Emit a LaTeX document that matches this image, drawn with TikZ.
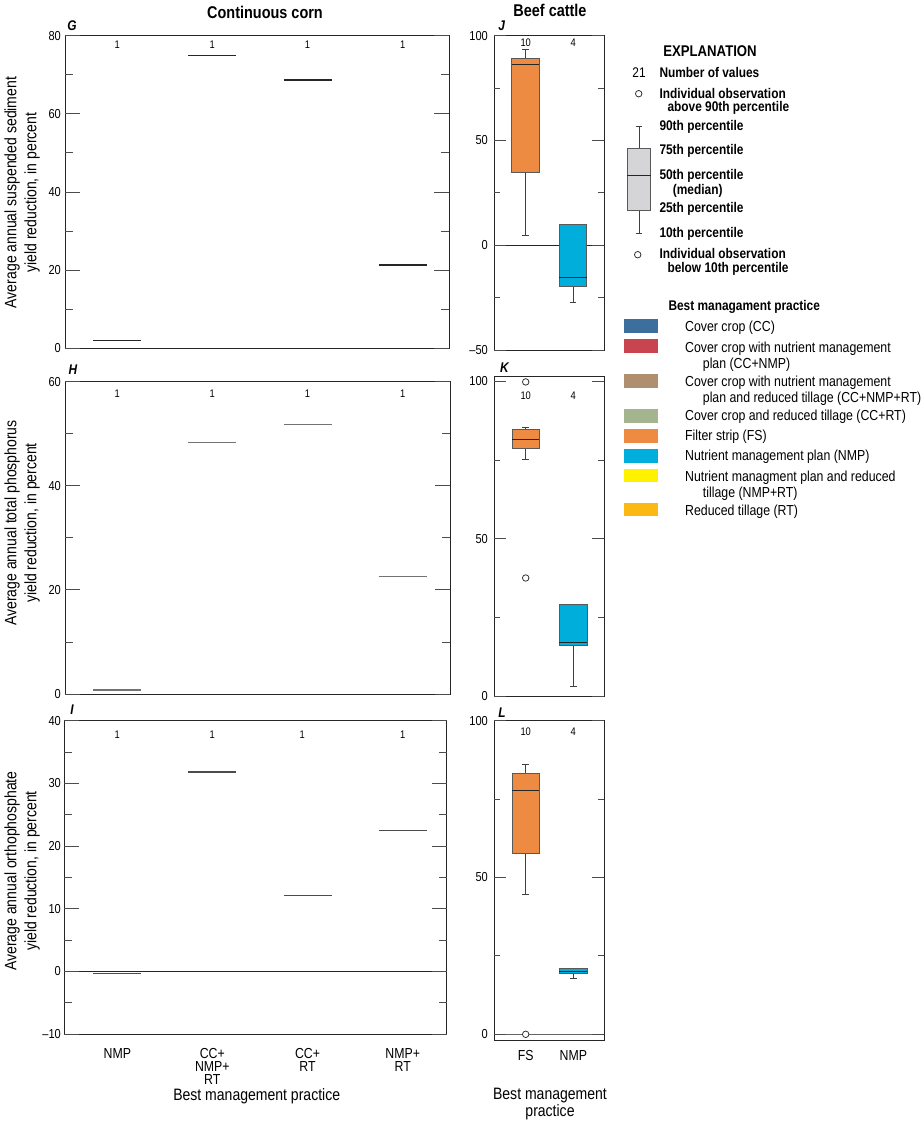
\documentclass[tikz,border=0pt]{standalone}
\usepackage{fontspec}
\setmainfont[FakeStretch=0.85]{Liberation Sans}
\definecolor{ccblue}{HTML}{3C6E9E}
\definecolor{ccnmpred}{HTML}{C8444F}
\definecolor{ccnmprttan}{HTML}{B08F6F}
\definecolor{ccrtsage}{HTML}{A3B48E}
\definecolor{fsorange}{HTML}{EC8B41}
\definecolor{nmpcyan}{HTML}{00AEDB}
\definecolor{nmprtyellow}{HTML}{FFF200}
\definecolor{rtgold}{HTML}{FDB913}
\definecolor{expgray}{HTML}{D5D5D7}
%% box: x, half width, colour, low whisker, q1, median, q3, high whisker
\newcommand{\bmpbox}[8]{%
  \draw[whisk] (#1,#4) -- (#1,#5) (#1,#7) -- (#1,#8);
  \draw[whisk] (#1-3.4,#4) -- (#1+3.4,#4) (#1-3.4,#8) -- (#1+3.4,#8);
  \filldraw[boxedge,fill=#3] (#1-#2,#5) rectangle (#1+#2,#7);
  \draw[medline] (#1-#2,#6) -- (#1+#2,#6);
}

\begin{document}
\begin{tikzpicture}
        [x=1pt,y=-1pt,
         panelframe/.style={draw=black!85,line width=0.9pt},
         axtick/.style={draw=black!70,line width=0.9pt},
         singleval/.style={draw=black!70,line width=1.2pt},
         zeroline/.style={draw=black!85,line width=0.9pt},
         whisk/.style={draw=black!75,line width=0.9pt},
         boxedge/.style={draw=black!65,line width=1pt},
         medline/.style={draw=black!85,line width=1pt},
         outlier/.style={shape=circle,draw=black!80,fill=white,line width=0.8pt,
           minimum size=6.5pt,inner sep=0pt},
         ynum/.style={anchor=east,inner sep=0pt,font=\fontsize{13}{13}\selectfont},
         cnt/.style={inner sep=0pt,font=\fontsize{11}{11}\selectfont},
         ytitle/.style={rotate=90,align=center,inner sep=0pt,
           font=\fontsize{16.5}{20}\selectfont},
         xcat/.style={anchor=north,align=center,inner sep=0pt,
           font=\fontsize{14.5}{12.8}\selectfont},
         xtitle/.style={align=center,inner sep=0pt,font=\fontsize{16.5}{17.7}\selectfont},
         ptitle/.style={inner sep=0pt,font=\bfseries\fontsize{17}{17}\selectfont},
         pletter/.style={inner sep=0pt,font=\bfseries\itshape\fontsize{14}{14}\selectfont},
         lhead/.style={inner sep=0pt,font=\bfseries\fontsize{15.5}{15.5}\selectfont},
         lbold/.style={anchor=west,inner sep=0pt,text height=10pt,text depth=0pt,
           font=\bfseries\fontsize{14}{14}\selectfont},
         lreg/.style={anchor=west,inner sep=0pt,text height=10.4pt,text depth=0pt,
           font=\fontsize{14.5}{14.5}\selectfont}]
        \useasboundingbox[fill=white] (0,0) rectangle (922,1121);
        %%
        \node[ptitle] (corntitle) at (265,12.3) {Continuous corn};
        \node[ptitle] (cattletitle) at (550,10.7) {Beef cattle};
        \foreach \nm/\xx/\yy in {G/72/26,H/73/369.3,I/72/710,J/501.7/25.7,K/504.3/367.3,L/502/713}
          \node[pletter] (letter\nm) at (\xx,\yy) {\nm};
        %% panel G
        \begin{scope}[shift={(0,348.3)},y=3.9075pt]
          \draw[panelframe] (65.3,0) rectangle (449.3,80);
          \foreach \v in {10,30,50,70}
            \draw[axtick] (65.3,\v) -- ++(8,0) (449.3,\v) -- ++(-8,0);
          \foreach \v in {0,20,40,60,80}
          {
            \draw[axtick] (65.3,\v) -- ++(15,0) (449.3,\v) -- ++(-15,0);
            \node[ynum] (gy\v) at (61,\v) {\v};
          }
          \foreach \cx/\val in {117.3/1.95,212.3/74.9,307.5/68.6,402.7/21.3}
            \draw[singleval,draw=black!85,line width=1.6pt] (\cx-24,\val) -- (\cx+24,\val);
        \end{scope}
        \node[ytitle] (gtitle) at (22,192.5) {Average annual suspended sediment\\yield reduction, in percent};
        \foreach \cx/\nm in {117.3/a,212.3/b,307.5/c,402.7/d}
          \node[cnt] (gcnt\nm) at (\cx,44.3) {1};
        %% panel H
        \begin{scope}[shift={(0,694)},y=5.205pt]
          \draw[panelframe] (65.3,0) rectangle (450.3,60);
          \foreach \v in {10,30,50}
            \draw[axtick] (65.3,\v) -- ++(8,0) (450.3,\v) -- ++(-8,0);
          \foreach \v in {0,20,40,60}
          {
            \draw[axtick] (65.3,\v) -- ++(15,0) (450.3,\v) -- ++(-15,0);
            \node[ynum] (hy\v) at (61,\v) {\v};
          }
          \foreach \cx/\val in {117.3/0.77,212.3/48.3,307.5/51.8,402.7/22.5}
            \draw[singleval,draw=black!55] (\cx-24,\val) -- (\cx+24,\val);
        \end{scope}
        \node[ytitle] (htitle) at (22,523) {Average annual total phosphorus\\yield reduction, in percent};
        \foreach \cx/\nm in {117.3/a,212.3/b,307.5/c,402.7/d}
          \node[cnt] (hcnt\nm) at (\cx,393.3) {1};
        %% panel I
        \begin{scope}[shift={(0,971.3)},y=6.266pt]
          \draw[panelframe] (64.3,-10) rectangle (446.7,40);
          \draw[zeroline] (64.3,0) -- (446.7,0);
          \foreach \v in {-5,5,15,25,35}
            \draw[axtick] (64.3,\v) -- ++(8,0) (446.7,\v) -- ++(-8,0);
          \foreach \v/\t in {-10/\textendash10,0/0,10/10,20/20,30/30,40/40}
          {
            \draw[axtick] (64.3,\v) -- ++(15,0) (446.7,\v) -- ++(-15,0);
            \node[ynum] (iy\v) at (61,\v) {\t};
          }
          \foreach \cx/\val in {117.3/-0.4,212.3/31.8,307.5/12.1,402.7/22.5}
            \draw[singleval] (\cx-24,\val) -- (\cx+24,\val);
        \end{scope}
        \node[ytitle] (ititle) at (22,871) {Average annual orthophosphate\\yield reduction, in percent};
        \foreach \cx/\nm in {117.3/a,212.3/b,302.3/c,402.7/d}
          \node[cnt] (icnt\nm) at (\cx,734.3) {1};
        \node[xcat] (catnmp) at (117.3,1048.5) {NMP};
        \node[xcat] (catccnmprt) at (212.3,1048.5) {CC+\\NMP+\\RT};
        \node[xcat] (catccrt) at (307.5,1048.5) {CC+\\RT};
        \node[xcat] (catnmprt) at (402.7,1048.5) {NMP+\\RT};
        \node[xtitle] (cornxtitle) at (256.7,1096) {Best management practice};
        %% panel J
        \begin{scope}[shift={(0,245.24)},y=2.0953pt]
          \draw[panelframe] (494.3,-50) rectangle (604.3,100);
          \draw[zeroline] (494.3,0) -- (604.3,0);
          \foreach \v in {-25,25,75}
            \draw[axtick] (494.3,\v) -- ++(6,0) (604.3,\v) -- ++(-6,0);
          \foreach \v/\t in {-50/\textendash50,0/0,50/50,100/100}
          {
            \draw[axtick] (494.3,\v) -- ++(12,0) (604.3,\v) -- ++(-12,0);
            \node[ynum] (jy\v) at (488,\v) {\t};
          }
          \bmpbox{525.5}{13.8}{fsorange}{4.6}{34.6}{86.3}{89.0}{93.5}
          \bmpbox{573}{13.7}{nmpcyan}{-27.4}{-19.8}{-15.3}{10.0}{10.0}
        \end{scope}
        \node[cnt] (jcntfs) at (525.7,42.7) {10};
        \node[cnt] (jcntnmp) at (573.3,42.7) {4};
        %% panel K
        \begin{scope}[shift={(0,696)},y=3.147pt]
          \draw[panelframe] (494.3,0) rectangle (604,101.5);
          \foreach \v in {25,75}
            \draw[axtick] (494.3,\v) -- ++(6,0) (604,\v) -- ++(-6,0);
          \foreach \v in {0,50,100}
          {
            \draw[axtick] (494.3,\v) -- ++(12,0) (604,\v) -- ++(-12,0);
            \node[ynum] (ky\v) at (488,\v) {\v};
          }
          \bmpbox{525.7}{13.7}{fsorange}{75.3}{78.6}{81.5}{84.8}{85.3}
          \bmpbox{573.2}{13.8}{nmpcyan}{3.1}{15.9}{16.9}{29.0}{29.0}
          \node[outlier] (kouthigh) at (525.7,99.8) {};
          \node[outlier] (koutlow) at (525.7,37.5) {};
        \end{scope}
        \node[cnt] (kcntfs) at (525.7,395.7) {10};
        \node[cnt] (kcntnmp) at (573.3,395.7) {4};
        %% panel L
        \begin{scope}[shift={(0,1034.3)},y=3.136pt]
          \draw[panelframe] (494.3,-1.8) rectangle (604,100);
          \draw[zeroline,draw=black!60] (494.3,0) -- (604,0);
          \foreach \v in {25,75}
            \draw[axtick] (494.3,\v) -- ++(6,0) (604,\v) -- ++(-6,0);
          \foreach \v in {0,50,100}
          {
            \draw[axtick] (494.3,\v) -- ++(12,0) (604,\v) -- ++(-12,0);
            \node[ynum] (ly\v) at (488,\v) {\v};
          }
          \bmpbox{525.7}{13.7}{fsorange}{44.6}{57.6}{77.6}{83.3}{85.9}
          \bmpbox{573.2}{13.8}{nmpcyan}{17.8}{19.3}{20.1}{21.1}{21.1}
          \node[outlier] (loutlow) at (525.7,0) {};
        \end{scope}
        \node[cnt] (lcntfs) at (525.7,731.7) {10};
        \node[cnt] (lcntnmp) at (573.3,731.7) {4};
        \node[xcat] (catfs) at (525.7,1050) {FS};
        \node[xcat] (catnmpb) at (573.3,1050) {NMP};
        \node[xtitle] (cattlextitle) at (550,1104) {Best management\\practice};
        %% explanation
        \node[lhead] (expl) at (710,50.7) {EXPLANATION};
        \node[cnt,font=\fontsize{14}{14}\selectfont] (nvsym) at (639,72.7) {21};
        \node[outlier] (abovesym) at (638.7,93.7) {};
        \node[outlier] (belowsym) at (637.7,254.7) {};
        \bmpbox{639}{11.7}{expgray}{233.3}{210.3}{175.7}{148.3}{126.7}
        \foreach \nm/\xx/\yy/\txt in {nvtxt/659.3/72.7/Number of values,
            abovea/659.3/93.7/Individual observation,aboveb/667.3/106.7/above 90th percentile,
            pninety/659.3/126/90th percentile,pseventy/659.3/149.7/75th percentile,
            pfifty/659.3/174.3/50th percentile,pmedian/672.7/189/(median),
            ptwenty/659.3/207.3/25th percentile,pten/659.3/232/10th percentile,
            belowa/659.3/253.3/Individual observation,belowb/667.3/267.3/below 10th percentile}
          \node[lbold] (\nm) at (\xx,\yy) {\txt};
        %% best management practice colours
        \node[lbold] (bmphead) at (668.3,305) {Best managament practice};
        \foreach \nm/\col/\yt in {cc/ccblue/319.3,ccnmp/ccnmpred/339.3,ccnmprt/ccnmprttan/374,
            ccrt/ccrtsage/409,fs/fsorange/429,nmp/nmpcyan/449,nmprt/nmprtyellow/468.7,rt/rtgold/502.7}
          \fill[\col] (624,\yt) rectangle ++(33.7,13.7);
        \foreach \nm/\xx/\yy/\txt in {cc/685/326.7/Cover crop (CC),
            ccnmp/685/347/Cover crop with nutrient management,ccnmpb/702.7/363.3/plan (CC+NMP),
            ccnmprt/685/381.7/Cover crop with nutrient management,
            ccnmprtb/702.7/397.7/plan and reduced tillage (CC+NMP+RT),
            ccrt/685/415.7/Cover crop and reduced tillage (CC+RT),
            fs/685/435.7/Filter strip (FS),nmp/685/455.7/Nutrient management plan (NMP),
            nmprt/685/476.7/Nutrient managment plan and reduced,nmprtb/702.7/492.7/tillage (NMP+RT),
            rt/685/510/Reduced tillage (RT)}
          \node[lreg] (lg\nm) at (\xx,\yy) {\txt};
\end{tikzpicture}
\end{document}
